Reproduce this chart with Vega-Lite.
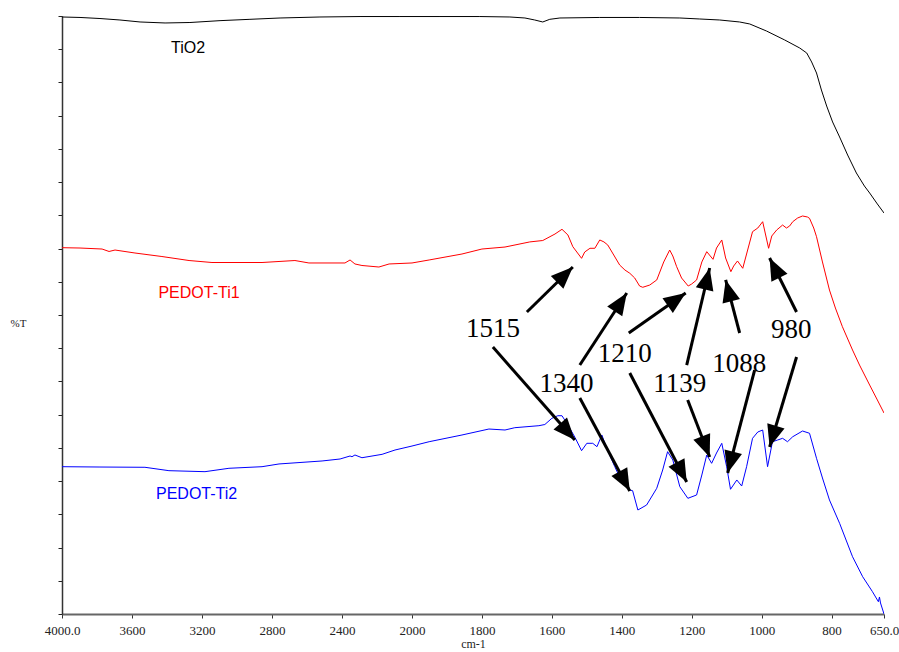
{
  "$schema": "https://vega.github.io/schema/vega-lite/v6.json",
  "width": 822,
  "height": 598,
  "autosize": {"type": "none"},
  "padding": {"left": 62, "top": 16, "right": 15, "bottom": 38},
  "background": "white",
  "config": {"view": {"stroke": null}},
  "layer": [
    {
      "data": {"values": [
        {"s":"TiO2","wn":4000,"t":89.85},{"s":"TiO2","wn":3897,"t":89.78},{"s":"TiO2","wn":3783,"t":89.62},{"s":"TiO2","wn":3669,"t":89.40},{"s":"TiO2","wn":3554,"t":89.10},{"s":"TiO2","wn":3411,"t":88.95},{"s":"TiO2","wn":3269,"t":89.02},{"s":"TiO2","wn":3097,"t":89.30},{"s":"TiO2","wn":2926,"t":89.50},{"s":"TiO2","wn":2754,"t":89.70},{"s":"TiO2","wn":2526,"t":89.85},{"s":"TiO2","wn":2297,"t":89.92},{"s":"TiO2","wn":2069,"t":89.92},{"s":"TiO2","wn":1920,"t":89.92},{"s":"TiO2","wn":1806,"t":89.92},{"s":"TiO2","wn":1720,"t":89.85},{"s":"TiO2","wn":1677,"t":89.70},{"s":"TiO2","wn":1649,"t":89.40},{"s":"TiO2","wn":1626,"t":89.10},{"s":"TiO2","wn":1606,"t":89.50},{"s":"TiO2","wn":1577,"t":89.70},{"s":"TiO2","wn":1463,"t":89.78},{"s":"TiO2","wn":1349,"t":89.78},{"s":"TiO2","wn":1234,"t":89.70},{"s":"TiO2","wn":1177,"t":89.55},{"s":"TiO2","wn":1120,"t":89.40},{"s":"TiO2","wn":1063,"t":89.10},{"s":"TiO2","wn":1034,"t":88.80},{"s":"TiO2","wn":986,"t":87.74},{"s":"TiO2","wn":934,"t":86.39},{"s":"TiO2","wn":891,"t":85.18},{"s":"TiO2","wn":871,"t":84.43},{"s":"TiO2","wn":857,"t":83.08},{"s":"TiO2","wn":843,"t":81.42},{"s":"TiO2","wn":829,"t":78.86},{"s":"TiO2","wn":814,"t":76.45},{"s":"TiO2","wn":797,"t":74.05},{"s":"TiO2","wn":777,"t":71.79},{"s":"TiO2","wn":754,"t":69.08},{"s":"TiO2","wn":729,"t":66.37},{"s":"TiO2","wn":706,"t":64.41},{"s":"TiO2","wn":691,"t":63.36},{"s":"TiO2","wn":669,"t":61.71},{"s":"TiO2","wn":650,"t":60.35},

        {"s":"PEDOT-Ti1","wn":4000,"t":55.13},{"s":"PEDOT-Ti1","wn":3897,"t":55.08},{"s":"PEDOT-Ti1","wn":3771,"t":54.93},{"s":"PEDOT-Ti1","wn":3731,"t":54.56},{"s":"PEDOT-Ti1","wn":3697,"t":54.78},{"s":"PEDOT-Ti1","wn":3583,"t":54.33},{"s":"PEDOT-Ti1","wn":3429,"t":53.80},{"s":"PEDOT-Ti1","wn":3274,"t":53.20},{"s":"PEDOT-Ti1","wn":3143,"t":52.90},{"s":"PEDOT-Ti1","wn":2857,"t":52.90},{"s":"PEDOT-Ti1","wn":2669,"t":53.20},{"s":"PEDOT-Ti1","wn":2589,"t":52.83},{"s":"PEDOT-Ti1","wn":2383,"t":52.83},{"s":"PEDOT-Ti1","wn":2354,"t":53.28},{"s":"PEDOT-Ti1","wn":2326,"t":52.68},{"s":"PEDOT-Ti1","wn":2286,"t":52.45},{"s":"PEDOT-Ti1","wn":2189,"t":52.22},{"s":"PEDOT-Ti1","wn":2131,"t":52.68},{"s":"PEDOT-Ti1","wn":2000,"t":52.83},{"s":"PEDOT-Ti1","wn":1951,"t":53.28},{"s":"PEDOT-Ti1","wn":1857,"t":54.18},{"s":"PEDOT-Ti1","wn":1800,"t":54.93},{"s":"PEDOT-Ti1","wn":1734,"t":55.23},{"s":"PEDOT-Ti1","wn":1663,"t":56.00},{"s":"PEDOT-Ti1","wn":1626,"t":56.21},{"s":"PEDOT-Ti1","wn":1591,"t":57.19},{"s":"PEDOT-Ti1","wn":1571,"t":57.90},{"s":"PEDOT-Ti1","wn":1554,"t":57.04},{"s":"PEDOT-Ti1","wn":1540,"t":55.28},{"s":"PEDOT-Ti1","wn":1515,"t":53.53},{"s":"PEDOT-Ti1","wn":1506,"t":54.48},{"s":"PEDOT-Ti1","wn":1491,"t":55.04},{"s":"PEDOT-Ti1","wn":1477,"t":55.04},{"s":"PEDOT-Ti1","wn":1463,"t":56.29},{"s":"PEDOT-Ti1","wn":1451,"t":56.00},{"s":"PEDOT-Ti1","wn":1440,"t":55.53},{"s":"PEDOT-Ti1","wn":1423,"t":54.03},{"s":"PEDOT-Ti1","wn":1406,"t":52.52},{"s":"PEDOT-Ti1","wn":1391,"t":51.77},{"s":"PEDOT-Ti1","wn":1377,"t":51.28},{"s":"PEDOT-Ti1","wn":1363,"t":50.57},{"s":"PEDOT-Ti1","wn":1349,"t":49.36},{"s":"PEDOT-Ti1","wn":1340,"t":49.17},{"s":"PEDOT-Ti1","wn":1320,"t":49.51},{"s":"PEDOT-Ti1","wn":1300,"t":50.27},{"s":"PEDOT-Ti1","wn":1280,"t":52.98},{"s":"PEDOT-Ti1","wn":1263,"t":54.78},{"s":"PEDOT-Ti1","wn":1254,"t":53.88},{"s":"PEDOT-Ti1","wn":1243,"t":52.27},{"s":"PEDOT-Ti1","wn":1229,"t":50.57},{"s":"PEDOT-Ti1","wn":1210,"t":49.36},{"s":"PEDOT-Ti1","wn":1200,"t":49.67},{"s":"PEDOT-Ti1","wn":1186,"t":50.27},{"s":"PEDOT-Ti1","wn":1171,"t":52.98},{"s":"PEDOT-Ti1","wn":1157,"t":54.53},{"s":"PEDOT-Ti1","wn":1139,"t":53.38},{"s":"PEDOT-Ti1","wn":1129,"t":55.08},{"s":"PEDOT-Ti1","wn":1114,"t":56.29},{"s":"PEDOT-Ti1","wn":1103,"t":53.58},{"s":"PEDOT-Ti1","wn":1088,"t":51.52},{"s":"PEDOT-Ti1","wn":1080,"t":52.37},{"s":"PEDOT-Ti1","wn":1069,"t":53.13},{"s":"PEDOT-Ti1","wn":1054,"t":52.03},{"s":"PEDOT-Ti1","wn":1040,"t":54.78},{"s":"PEDOT-Ti1","wn":1026,"t":57.54},{"s":"PEDOT-Ti1","wn":1011,"t":58.09},{"s":"PEDOT-Ti1","wn":997,"t":59.04},{"s":"PEDOT-Ti1","wn":980,"t":55.04},{"s":"PEDOT-Ti1","wn":971,"t":56.89},{"s":"PEDOT-Ti1","wn":957,"t":57.79},{"s":"PEDOT-Ti1","wn":940,"t":58.54},{"s":"PEDOT-Ti1","wn":929,"t":58.09},{"s":"PEDOT-Ti1","wn":920,"t":58.39},{"s":"PEDOT-Ti1","wn":911,"t":59.04},{"s":"PEDOT-Ti1","wn":897,"t":59.60},{"s":"PEDOT-Ti1","wn":883,"t":59.90},{"s":"PEDOT-Ti1","wn":869,"t":59.75},{"s":"PEDOT-Ti1","wn":863,"t":59.55},{"s":"PEDOT-Ti1","wn":851,"t":58.09},{"s":"PEDOT-Ti1","wn":843,"t":56.78},{"s":"PEDOT-Ti1","wn":826,"t":52.98},{"s":"PEDOT-Ti1","wn":806,"t":48.76},{"s":"PEDOT-Ti1","wn":789,"t":46.05},{"s":"PEDOT-Ti1","wn":769,"t":43.24},{"s":"PEDOT-Ti1","wn":740,"t":39.73},{"s":"PEDOT-Ti1","wn":720,"t":37.47},{"s":"PEDOT-Ti1","wn":691,"t":34.46},{"s":"PEDOT-Ti1","wn":669,"t":32.21},{"s":"PEDOT-Ti1","wn":650,"t":30.25},

        {"s":"PEDOT-Ti2","wn":4000,"t":22.17},{"s":"PEDOT-Ti2","wn":3783,"t":22.12},{"s":"PEDOT-Ti2","wn":3526,"t":22.08},{"s":"PEDOT-Ti2","wn":3389,"t":21.57},{"s":"PEDOT-Ti2","wn":3183,"t":21.42},{"s":"PEDOT-Ti2","wn":3046,"t":21.93},{"s":"PEDOT-Ti2","wn":2857,"t":22.17},{"s":"PEDOT-Ti2","wn":2760,"t":22.58},{"s":"PEDOT-Ti2","wn":2514,"t":23.03},{"s":"PEDOT-Ti2","wn":2411,"t":23.33},{"s":"PEDOT-Ti2","wn":2354,"t":23.78},{"s":"PEDOT-Ti2","wn":2343,"t":23.67},{"s":"PEDOT-Ti2","wn":2326,"t":23.93},{"s":"PEDOT-Ti2","wn":2286,"t":23.52},{"s":"PEDOT-Ti2","wn":2171,"t":24.03},{"s":"PEDOT-Ti2","wn":2097,"t":24.68},{"s":"PEDOT-Ti2","wn":2000,"t":25.28},{"s":"PEDOT-Ti2","wn":1951,"t":25.93},{"s":"PEDOT-Ti2","wn":1857,"t":26.94},{"s":"PEDOT-Ti2","wn":1780,"t":27.84},{"s":"PEDOT-Ti2","wn":1734,"t":27.69},{"s":"PEDOT-Ti2","wn":1706,"t":28.04},{"s":"PEDOT-Ti2","wn":1637,"t":28.34},{"s":"PEDOT-Ti2","wn":1620,"t":28.52},{"s":"PEDOT-Ti2","wn":1600,"t":29.45},{"s":"PEDOT-Ti2","wn":1583,"t":29.84},{"s":"PEDOT-Ti2","wn":1571,"t":29.84},{"s":"PEDOT-Ti2","wn":1554,"t":28.44},{"s":"PEDOT-Ti2","wn":1534,"t":26.59},{"s":"PEDOT-Ti2","wn":1515,"t":24.58},{"s":"PEDOT-Ti2","wn":1500,"t":25.69},{"s":"PEDOT-Ti2","wn":1483,"t":25.69},{"s":"PEDOT-Ti2","wn":1471,"t":25.18},{"s":"PEDOT-Ti2","wn":1457,"t":26.94},{"s":"PEDOT-Ti2","wn":1443,"t":24.94},{"s":"PEDOT-Ti2","wn":1420,"t":22.17},{"s":"PEDOT-Ti2","wn":1400,"t":19.91},{"s":"PEDOT-Ti2","wn":1377,"t":18.66},{"s":"PEDOT-Ti2","wn":1369,"t":18.56},{"s":"PEDOT-Ti2","wn":1354,"t":15.65},{"s":"PEDOT-Ti2","wn":1329,"t":16.40},{"s":"PEDOT-Ti2","wn":1300,"t":18.92},{"s":"PEDOT-Ti2","wn":1283,"t":21.67},{"s":"PEDOT-Ti2","wn":1269,"t":24.43},{"s":"PEDOT-Ti2","wn":1254,"t":23.18},{"s":"PEDOT-Ti2","wn":1234,"t":19.16},{"s":"PEDOT-Ti2","wn":1211,"t":17.41},{"s":"PEDOT-Ti2","wn":1186,"t":17.91},{"s":"PEDOT-Ti2","wn":1171,"t":20.92},{"s":"PEDOT-Ti2","wn":1157,"t":23.93},{"s":"PEDOT-Ti2","wn":1143,"t":22.68},{"s":"PEDOT-Ti2","wn":1129,"t":24.23},{"s":"PEDOT-Ti2","wn":1114,"t":25.69},{"s":"PEDOT-Ti2","wn":1100,"t":22.17},{"s":"PEDOT-Ti2","wn":1089,"t":18.77},{"s":"PEDOT-Ti2","wn":1071,"t":20.17},{"s":"PEDOT-Ti2","wn":1057,"t":19.26},{"s":"PEDOT-Ti2","wn":1043,"t":22.17},{"s":"PEDOT-Ti2","wn":1026,"t":26.44},{"s":"PEDOT-Ti2","wn":1011,"t":27.39},{"s":"PEDOT-Ti2","wn":997,"t":27.69},{"s":"PEDOT-Ti2","wn":983,"t":22.17},{"s":"PEDOT-Ti2","wn":969,"t":25.93},{"s":"PEDOT-Ti2","wn":954,"t":26.19},{"s":"PEDOT-Ti2","wn":940,"t":26.44},{"s":"PEDOT-Ti2","wn":926,"t":25.93},{"s":"PEDOT-Ti2","wn":911,"t":26.68},{"s":"PEDOT-Ti2","wn":883,"t":27.54},{"s":"PEDOT-Ti2","wn":863,"t":27.20},{"s":"PEDOT-Ti2","wn":843,"t":23.43},{"s":"PEDOT-Ti2","wn":826,"t":20.47},{"s":"PEDOT-Ti2","wn":806,"t":17.16},{"s":"PEDOT-Ti2","wn":777,"t":13.65},{"s":"PEDOT-Ti2","wn":740,"t":8.62},{"s":"PEDOT-Ti2","wn":711,"t":5.61},{"s":"PEDOT-Ti2","wn":683,"t":3.36},{"s":"PEDOT-Ti2","wn":669,"t":2.11},{"s":"PEDOT-Ti2","wn":666,"t":1.85},{"s":"PEDOT-Ti2","wn":663,"t":2.56},{"s":"PEDOT-Ti2","wn":660,"t":1.66},{"s":"PEDOT-Ti2","wn":650,"t":0.0}
      ]},
      "mark": {"type": "line", "strokeWidth": 1, "clip": true},
      "encoding": {
        "x": {
          "field": "wn", "type": "quantitative",
          "scale": {"domain": [4000, 2000, 650], "range": [0, 350, 822], "nice": false, "zero": false},
          "axis": {
            "title": "cm-1",
            "values": [4000, 3600, 3200, 2800, 2400, 2000, 1800, 1600, 1400, 1200, 1000, 800, 650],
            "tickCount": 30,
            "format": "d",
            "labelExpr": "datum.value == 4000 ? '4000.0' : (datum.value == 650 ? '650.0' : datum.label)",
            "labelFont": "Liberation Serif", "labelFontSize": 13, "labelColor": "#222",
            "labelPadding": 6, "labelFlush": false, "labelOverlap": false, "labelBound": false,
            "tickSize": 4, "tickColor": "#333", "tickWidth": 1,
            "domainColor": "#666", "domainWidth": 2,
            "grid": false,
            "titleFont": "Liberation Serif", "titleFontSize": 12, "titleFontWeight": "normal", "titleColor": "#222",
            "titlePadding": 1
          }
        },
        "y": {
          "field": "t", "type": "quantitative",
          "scale": {"domain": [0, 90], "nice": false, "zero": false},
          "axis": {
            "title": "%T",
            "values": [0, 5, 10, 15, 20, 25, 30, 35, 40, 45, 50, 55, 60, 65, 70, 75, 80, 85, 90],
            "tickCount": 30,
            "labels": false,
            "labelOverlap": false,
            "labelBound": false,
            "tickSize": 4, "tickColor": "#222", "tickWidth": 1,
            "domainColor": "#333", "domainWidth": 1.5,
            "grid": false,
            "titleAngle": 0, "titleX": -44, "titleY": 307,
            "titleAlign": "center", "titleBaseline": "middle",
            "titleFont": "Liberation Serif", "titleFontSize": 11, "titleFontWeight": "normal", "titleColor": "#222"
          }
        },
        "color": {
          "field": "s", "type": "nominal",
          "scale": {"domain": ["TiO2", "PEDOT-Ti1", "PEDOT-Ti2"], "range": ["#000000", "#ff0000", "#0000ff"]},
          "legend": null
        }
      }
    },
    {
      "data": {"values": [
        {"s":"TiO2","wn":3280,"t":85.18},
        {"s":"PEDOT-Ti1","wn":3217,"t":48.31},
        {"s":"PEDOT-Ti2","wn":3231,"t":18.06}
      ]},
      "mark": {"type": "text", "font": "Liberation Sans", "fontSize": 16, "align": "center", "baseline": "middle"},
      "encoding": {
        "x": {"field": "wn", "type": "quantitative"},
        "y": {"field": "t", "type": "quantitative"},
        "text": {"field": "s"},
        "color": {"field": "s", "type": "nominal", "legend": null}
      }
    },
    {
      "data": {"name": "arrows", "values": [
        {"wn":1671.4,"t":45.45,"wn2":1540.0,"t2":52.22},
        {"wn":1768.6,"t":40.18,"wn2":1534.3,"t2":26.19},
        {"wn":1520.0,"t":37.47,"wn2":1385.7,"t2":48.31},
        {"wn":1520.0,"t":32.51,"wn2":1377.2,"t2":18.51},
        {"wn":1380.0,"t":42.29,"wn2":1217.2,"t2":48.31},
        {"wn":1377.2,"t":36.27,"wn2":1214.3,"t2":19.87},
        {"wn":1214.3,"t":37.47,"wn2":1148.6,"t2":52.07},
        {"wn":1211.5,"t":32.21,"wn2":1148.6,"t2":23.63},
        {"wn":1062.9,"t":42.29,"wn2":1102.9,"t2":50.27},
        {"wn":1020.0,"t":36.72,"wn2":1097.2,"t2":21.22},
        {"wn":900.1,"t":45.45,"wn2":977.2,"t2":53.58},
        {"wn":900.1,"t":38.68,"wn2":977.2,"t2":25.13}
      ]},
      "layer": [
        {
          "mark": {"type": "rule", "strokeWidth": 3, "color": "black"},
          "encoding": {
            "x": {"field": "wn", "type": "quantitative"},
            "y": {"field": "t", "type": "quantitative"},
            "x2": {"field": "wn2"},
            "y2": {"field": "t2"}
          }
        },
        {
          "transform": [
            {"calculate": "datum.wn >= 2000 ? (4000 - datum.wn) * 0.175 : 350 + (2000 - datum.wn) * 0.35", "as": "px1"},
            {"calculate": "datum.wn2 >= 2000 ? (4000 - datum.wn2) * 0.175 : 350 + (2000 - datum.wn2) * 0.35", "as": "px2"},
            {"calculate": "(90 - datum.t) / 90 * 598", "as": "py1"},
            {"calculate": "(90 - datum.t2) / 90 * 598", "as": "py2"},
            {"calculate": "((atan2(datum.px2 - datum.px1, -(datum.py2 - datum.py1)) * 180 / PI) + 360) % 360", "as": "ang"}
          ],
          "mark": {"type": "point", "shape": "M0,0 L0.9,2.2 L-0.9,2.2 Z", "filled": true, "color": "black", "opacity": 1, "size": 400},
          "encoding": {
            "x": {"field": "wn2", "type": "quantitative"},
            "y": {"field": "t2", "type": "quantitative"},
            "angle": {"field": "ang", "type": "quantitative", "scale": null}
          }
        }
      ]
    },
    {
      "data": {"values": [
        {"lab":"1515","wn":1768.6,"t":41.69},
        {"lab":"1340","wn":1558,"t":33.46},
        {"lab":"1210","wn":1391.5,"t":37.97},
        {"lab":"1139","wn":1234.3,"t":33.46},
        {"lab":"1088","wn":1064.3,"t":36.47},
        {"lab":"980","wn":915.2,"t":41.49}
      ]},
      "mark": {"type": "text", "font": "Liberation Serif", "fontSize": 27, "align": "center", "baseline": "alphabetic", "color": "black"},
      "encoding": {
        "x": {"field": "wn", "type": "quantitative"},
        "y": {"field": "t", "type": "quantitative"},
        "text": {"field": "lab"}
      }
    }
  ]
}
